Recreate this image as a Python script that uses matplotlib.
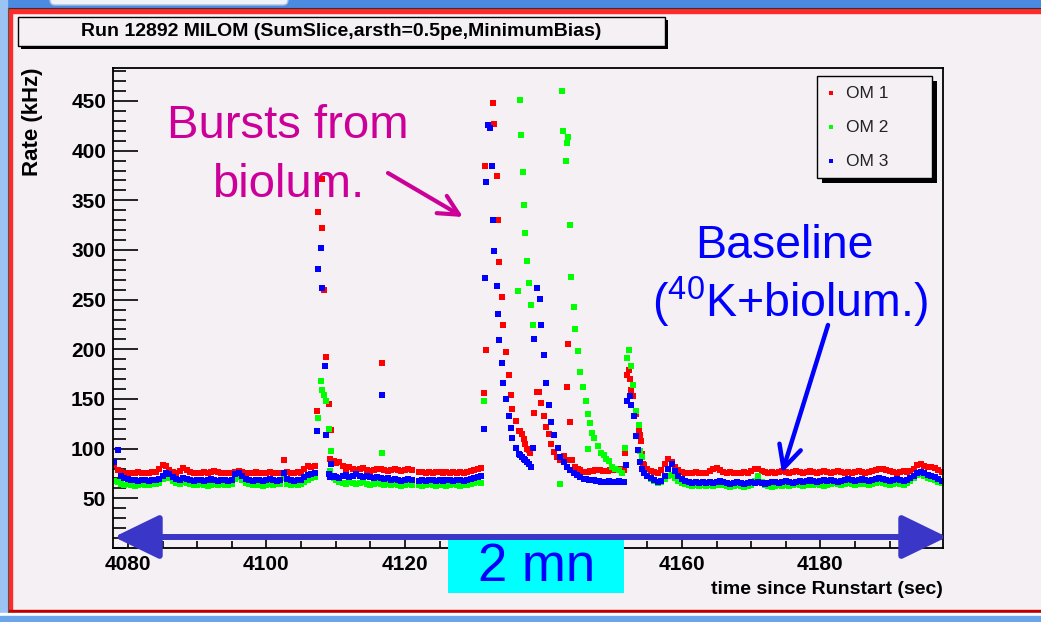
import numpy as np
import matplotlib
matplotlib.use('Agg')
import matplotlib.pyplot as plt
from matplotlib import ticker
from matplotlib.patches import Rectangle, FancyArrowPatch, FancyBboxPatch

plt.rcParams['font.family'] = ['Liberation Sans', 'DejaVu Sans']
plt.rcParams['mathtext.fontset'] = 'custom'
plt.rcParams['mathtext.rm'] = 'Liberation Sans'
plt.rcParams['mathtext.default'] = 'regular'

nan = np.nan

# ---- data (rate in kHz vs time since run start in s) ----
# regular baseline samples, 0.5 s apart, starting at each seg_start
seg_start = [4078.0, 4110.5, 4154.5]
seg_step = 0.5

om1_a = [84, 79, 77, 76, 76, 75, 76, 77, 76, 75,
         76, 77, 77, 80, 84, 83, 79, 77, 76, 78,
         81, 79, 77, 76, 75, 76, 77, 76, 77, 78,
         77, 76, 76, 75, 76, 77, 78, 77, 76, 75,
         76, 77, 76, 75, 76, 77, 76, 75, 76, 89,
         77, 75, 76, 77, 76, 80, 83, 82, 83]
om1_b = [87, 83, 80, 82, 80, 79, 80, 81, 79, 78,
         79, 80, 80, 79, 78, 79, 80, 79, 78, 79,
         80, 79, nan, 77, 77, 76, 77, 76, 77, 77,
         76, 77, 76, 77, 76, 77, 76, 77, 78, 79,
         80, 81]
om1_c = [84, 80, 78, 77, 76, 79, 85, 90, 87, 82,
         79, 77, 76, 75, 76, 77, 76, 75, 76, 78,
         80, 81, 79, 77, 76, 77, 76, 75, 76, 77,
         76, 78, 80, 80, 78, 77, 76, 77, 76, 77,
         78, 77, 76, 77, 78, 77, 76, 77, 78, 77,
         76, 77, 78, 77, 76, 77, 78, 77, 76, 77,
         76, 77, 78, 77, 76, 77, 78, 79, 80, 80,
         79, 78, 77, 76, 77, 78, 77, 78, 80, 84,
         85, 83, 82, 82, 81, 79, 77]

om2_a = [67, 66, 64, 63, 64, 63, 62, 63, 64, 63,
         63, 64, 64, 65, 69, 71, 70, 67, 65, 64,
         66, 65, 64, 63, 63, 64, 63, 62, 63, 64,
         63, 64, 63, 63, 64, 69, 71, 68, 65, 64,
         63, 64, 63, 62, 63, 64, 63, 64, 64, 70,
         64, 63, 64, 63, 64, 66, 68, 70, 71]
om2_b = [66, 65, 64, 66, 65, 64, 65, 66, 64, 63,
         64, 65, 64, 63, 64, 63, 64, 63, 62, 63,
         64, 63, nan, 63, 62, 63, 64, 63, 62, 63,
         63, 62, 63, 64, 63, 62, 63, 63, 64, 65,
         66, 65]
om2_c = [76, 72, 69, 67, 65, 66, 69, 72, 73, 70,
         67, 65, 64, 63, 62, 63, 62, 63, 62, 63,
         62, 63, 64, 63, 62, 61, 62, 63, 62, 61,
         62, 63, 67, 72, 66, 63, 62, 61, 62, 63,
         62, 63, 62, 63, 64, 63, 62, 63, 64, 63,
         64, 63, 62, 63, 64, 65, 64, 63, 64, 65,
         64, 63, 64, 65, 64, 63, 64, 65, 66, 65,
         64, 63, 64, 65, 64, 63, 65, 67, 70, 73,
         74, 72, 70, 69, 68, 66, 65]

om3_a = [87, 99, 72, 70, 69, 68, 68, 67, 68, 68,
         67, 68, 68, 69, 72, 75, 74, 71, 69, 68,
         70, 69, 68, 67, 68, 68, 67, 68, 69, 68,
         67, 68, 68, 67, 68, 74, 75, 72, 69, 68,
         67, 68, 68, 67, 68, 69, 68, 67, 68, 76,
         69, 68, 67, 68, 68, 71, 73, 74, 75]
om3_b = [70, 72, 73, 71, 72, 74, 72, 71, 72, 71,
         70, 71, 70, 69, 70, 68, 69, 68, 67, 68,
         69, 68, nan, 67, 68, 67, 68, 68, 67, 68,
         67, 68, 68, 67, 68, 68, 67, 68, 69, 70,
         71, 72]
om3_c = [75, 72, 70, 68, 66, 67, 72, 80, 85, 78,
         72, 69, 67, 66, 65, 66, 65, 66, 65, 66,
         65, 66, 67, 66, 65, 64, 65, 66, 65, 64,
         65, 66, 65, 66, 65, 64, 65, 66, 66, 65,
         66, 67, 66, 65, 66, 67, 66, 67, 68, 67,
         66, 67, 68, 67, 68, 67, 66, 67, 68, 69,
         68, 67, 68, 69, 68, 67, 68, 69, 70, 69,
         68, 67, 68, 69, 68, 67, 68, 70, 72, 75,
         77, 75, 73, 72, 71, 69, 67]

# burst samples (time, rate)
om1_burst = [(4107.26, 137.7), (4107.41, 338.5), (4107.99, 321.7), (4108.0, 371.0),
             (4108.37, 260.2), (4108.61, 192.4), (4109.0, 144.7), (4109.19, 90.0),
             (4109.33, 118.5), (4109.7, 88.0), (4110.1, 86.0),
             (4116.65, 186.4),
             (4131.37, 155.7), (4131.51, 384.8), (4131.75, 199.1), (4132.67, 447.9),
             (4132.81, 426.4), (4133.25, 374.0), (4133.39, 329.7), (4133.63, 287.7),
             (4134.02, 252.5), (4134.16, 224.9), (4134.59, 197.0), (4134.98, 173.9),
             (4135.32, 154.0), (4135.51, 140.3), (4136.04, 128.2), (4136.42, 117.4),
             (4136.66, 117.4), (4136.9, 115.1), (4137.15, 110.1), (4137.39, 105.0),
             (4137.63, 100.0), (4137.87, 98.3), (4138.11, 95.6),
             (4138.69, 135.9), (4139.12, 157.4), (4139.41, 157.4), (4139.65, 146.3),
             (4140.03, 132.6), (4140.42, 121.8), (4140.76, 114.4), (4141.09, 105.0),
             (4141.48, 96.6), (4141.96, 91.6), (4142.44, 88.2), (4142.92, 92.3),
             (4143.3, 88.2), (4143.4, 161.8), (4143.6, 205.1), (4143.79, 126.5),
             (4144.13, 88.2), (4144.6, 81.5), (4145.0, 79.5), (4145.33, 78.2),
             (4145.7, 77.0), (4146.05, 76.5), (4146.4, 77.0), (4146.77, 77.5),
             (4147.1, 78.0), (4147.5, 78.2), (4147.85, 78.5), (4148.2, 78.8),
             (4148.55, 78.0), (4148.94, 77.5), (4149.3, 78.0), (4149.66, 78.8),
             (4150.0, 78.5), (4150.38, 78.2), (4150.75, 79.0), (4151.1, 79.8),
             (4151.35, 79.0), (4151.59, 78.8), (4151.83, 95.6),
             (4152.07, 173.9), (4152.4, 178.9), (4152.55, 169.8), (4152.64, 158.8),
             (4152.93, 153.0), (4153.37, 135.2), (4153.75, 119.0), (4153.9, 113.4),
             (4154.05, 108.0), (4154.23, 95.0), (4154.4, 85.0)]

om2_burst = [(4107.46, 130.9), (4107.84, 167.9), (4108.03, 158.8), (4108.37, 153.8),
             (4108.61, 148.1), (4109.0, 120.2), (4109.19, 77.2), (4109.33, 97.4),
             (4109.7, 70.0), (4110.1, 68.0),
             (4116.65, 95.7),
             (4131.37, 147.7),
             (4136.28, 258.5), (4136.66, 450.9), (4136.81, 415.7), (4137.0, 378.7),
             (4137.19, 344.8), (4137.39, 317.3), (4137.58, 289.4), (4137.96, 266.6),
             (4138.16, 245.1), (4138.54, 224.9),
             (4142.44, 64.7), (4142.68, 460.0), (4142.83, 420.1), (4143.21, 389.5),
             (4143.4, 408.0), (4143.5, 414.0), (4143.79, 324.7), (4143.98, 272.6),
             (4144.37, 243.1), (4144.56, 220.2), (4144.94, 198.7), (4145.33, 177.2),
             (4145.71, 162.1), (4146.1, 148.0), (4146.39, 100.0), (4146.44, 134.6),
             (4146.77, 126.2), (4147.01, 116.1), (4147.35, 111.1), (4147.93, 102.3),
             (4148.31, 95.9), (4148.7, 93.3), (4149.08, 89.9), (4149.47, 87.6),
             (4149.9, 81.5), (4150.38, 79.8), (4150.86, 78.2), (4151.35, 75.5),
             (4151.83, 100.7), (4152.07, 191.3), (4152.4, 199.1), (4152.64, 183.3),
             (4152.98, 163.8), (4153.37, 137.6), (4153.75, 123.5), (4154.0, 97.6),
             (4154.23, 91.6)]

om3_burst = [(4107.26, 117.5), (4107.46, 280.4), (4107.84, 301.6), (4107.99, 261.9),
             (4108.42, 183.3), (4108.61, 114.2), (4109.1, 74.8), (4109.2, 71.5),
             (4109.33, 84.9), (4109.7, 72.0), (4110.1, 71.0),
             (4116.65, 154.4),
             (4131.37, 120.1), (4131.56, 271.3), (4131.75, 368.0), (4131.95, 425.4),
             (4132.33, 423.1), (4132.52, 384.8), (4132.67, 329.7), (4132.86, 298.5),
             (4133.25, 263.5), (4133.44, 235.7), (4133.63, 209.8), (4134.02, 186.3),
             (4134.21, 166.1), (4134.59, 149.7), (4134.98, 132.6), (4135.32, 120.5),
             (4135.51, 111.1), (4136.04, 100.7), (4136.42, 95.0), (4136.66, 93.3),
             (4136.9, 91.6), (4137.15, 90.0), (4137.39, 88.2), (4137.63, 86.6),
             (4137.87, 84.9), (4138.16, 81.5), (4138.49, 100.7),
             (4138.69, 210.8), (4139.07, 261.9), (4139.46, 251.1), (4139.65, 224.9),
             (4140.03, 194.0), (4140.42, 166.5), (4140.8, 143.6), (4141.14, 126.5),
             (4141.53, 113.4), (4142.06, 100.7), (4142.44, 91.6), (4142.92, 86.6),
             (4143.4, 81.5), (4143.88, 78.2), (4144.37, 75.5), (4144.85, 73.1),
             (4145.33, 71.5), (4145.81, 69.8), (4146.2, 69.2), (4146.53, 68.8),
             (4146.9, 68.5), (4147.25, 68.1), (4147.6, 67.5), (4147.98, 67.1),
             (4148.35, 66.8), (4148.7, 66.4), (4149.05, 66.6), (4149.42, 67.1),
             (4149.8, 66.9), (4150.14, 66.4), (4150.5, 66.7), (4150.86, 67.1),
             (4151.2, 66.6), (4151.59, 66.4),
             (4151.97, 83.2), (4152.07, 148.0), (4152.45, 153.0), (4152.64, 143.6),
             (4153.03, 132.6), (4153.42, 112.4), (4153.66, 99.0), (4154.0, 86.6),
             (4154.23, 79.8)]

series_names = ['OM 1', 'OM 2', 'OM 3']
series_colors = ['#FF0000', '#00FF00', '#0000FF']

x_ticks = [4080, 4100, 4120, 4140, 4160, 4180]
x_tick_labels = ['4080', '4100', '4120', '', '4160', '4180']  # 4140 sits under the "2 mn" box
y_ticks = [50, 100, 150, 200, 250, 300, 350, 400, 450]


def build(segs, burst):
    t, v = [], []
    for start, vals in zip(seg_start, segs):
        t += [start + seg_step * i for i in range(len(vals))]
        v += list(vals)
    t += [p[0] for p in burst]
    v += [p[1] for p in burst]
    return np.array(t), np.array(v, dtype=float)


data = [build([om1_a, om1_b, om1_c], om1_burst),
        build([om2_a, om2_b, om2_c], om2_burst),
        build([om3_a, om3_b, om3_c], om3_burst)]

# ---- figure ----
W, H = 1041, 622
bg = '#F4F0F4'
mag = '#CC0099'

fig = plt.figure(figsize=(W / 100, H / 100), dpi=100)
fig.patch.set_facecolor(bg)

ax = fig.add_axes([113 / W, 1 - 548 / H, 830 / W, 480 / H])
ax.set_facecolor(bg)
for (t, v), c in zip(data, series_colors):
    ax.plot(t, v, 's', color=c, ms=4.2, mew=0, linestyle='none')

ax.set_xlim(4077.85, 4197.7)
ax.set_ylim(0, 483.2)
ax.set_xticks(x_ticks)
ax.set_xticklabels(x_tick_labels)
ax.set_yticks(y_ticks)
ax.xaxis.set_minor_locator(ticker.MultipleLocator(5))
ax.yaxis.set_minor_locator(ticker.MultipleLocator(10))
ax.tick_params(which='both', direction='in', top=False, right=False)
ax.tick_params(axis='y', which='major', length=18, width=1.2, labelsize=15, pad=5)
ax.tick_params(axis='y', which='minor', length=9, width=1.2)
ax.tick_params(axis='x', which='major', length=10, width=1.2, labelsize=15, pad=5)
ax.tick_params(axis='x', which='minor', length=5, width=1.2)
for lbl in ax.get_xticklabels() + ax.get_yticklabels():
    lbl.set_fontweight('bold')
for s in ax.spines.values():
    s.set_linewidth(1.3)
    s.set_color('black')

# ---- overlay in pixel coordinates for the slide decorations ----
ov = fig.add_axes([0, 0, 1, 1], zorder=10)
ov.set_xlim(0, W)
ov.set_ylim(H, 0)
ov.axis('off')
ov.patch.set_alpha(0)

# slide frame
ov.add_patch(Rectangle((0, 0), W, 7, color='#4A8AE0'))
ov.add_patch(FancyBboxPatch((50, -8), 238, 13, boxstyle='round,pad=0,rounding_size=5',
                            fc='#EEF3FA', ec='#A8C0E0', lw=1))
ov.add_patch(Rectangle((0, 0), 7, H, color='#9CC4F2'))
ov.plot([7.5, W], [7.8, 7.8], color='#333333', lw=0.8)
ov.plot([7.5, 7.5], [7.8, 612], color='#555555', lw=0.8)
ov.add_patch(Rectangle((9, 9), W - 9, 3.5, color='#FF2A2A'))
ov.add_patch(Rectangle((9, 9), 3, 603, color='#FF2A2A'))
ov.add_patch(Rectangle((9, 609.5), W - 9, 3.5, color='#C00000'))
ov.add_patch(Rectangle((0, 613), W, 3, color='white'))
ov.add_patch(Rectangle((0, 616), W, 6, color='#6CA6EA'))

# title box
ov.add_patch(Rectangle((21, 20), 647, 29, fc='black', ec='none'))
ov.add_patch(Rectangle((18, 17), 647, 29, fc=bg, ec='black', lw=1))
ov.text(341, 32, 'Run 12892 MILOM (SumSlice,arsth=0.5pe,MinimumBias)',
        ha='center', va='center', fontsize=14, fontweight='bold')

# axis titles
ov.text(32.5, 68, 'Rate (kHz)', rotation=90, ha='center', va='top',
        fontsize=16, fontweight='bold')
ov.text(943, 590, 'time since Runstart (sec)', ha='right', va='center',
        fontsize=14, fontweight='bold')

# legend
ov.add_patch(Rectangle((822, 81), 115, 102, fc='black', ec='none'))
ov.add_patch(Rectangle((817, 76), 115, 102, fc=bg, ec='black', lw=1))
for i, (name, c) in enumerate(zip(series_names, series_colors)):
    yy = 93 + 34 * i
    ov.plot(831, yy, 's', color=c, ms=3.4, mew=0)
    ov.text(846, yy, name, ha='left', va='center', fontsize=12.5, color='#222222')

# annotations
ov.text(288, 138, 'Bursts from', ha='center', va='baseline', fontsize=34, color=mag)
ov.text(288, 197, 'biolum.', ha='center', va='baseline', fontsize=34, color=mag)
ov.add_patch(FancyArrowPatch((388, 173), (463, 217), arrowstyle='->', mutation_scale=36,
                             lw=3, color=mag, shrinkA=0, shrinkB=0))

ov.text(784, 258, 'Baseline', ha='center', va='baseline', fontsize=33.5, color='#0000FF')
ov.text(790, 317, r'($^{40}$K+biolum.)', ha='center', va='baseline', fontsize=33.5,
        color='#0000FF')
ov.add_patch(FancyArrowPatch((828, 325), (782, 473), arrowstyle='->', mutation_scale=40,
                             lw=3.2, color='#0000FF', shrinkA=0, shrinkB=0))

# 2 minute span
ov.add_patch(Rectangle((448, 540), 176, 53, fc='#00FFFF', ec='none'))
ov.text(537, 567, '2 mn', ha='center', va='center', fontsize=38, color='#0000FF')
ov.add_patch(FancyArrowPatch((114, 537), (947, 537),
                             arrowstyle='<|-|>,head_length=1.75,head_width=0.85',
                             mutation_scale=16, lw=4.3, color='#3A36C8',
                             shrinkA=0, shrinkB=0))

fig.savefig('out.png', dpi=100, facecolor=fig.get_facecolor())
